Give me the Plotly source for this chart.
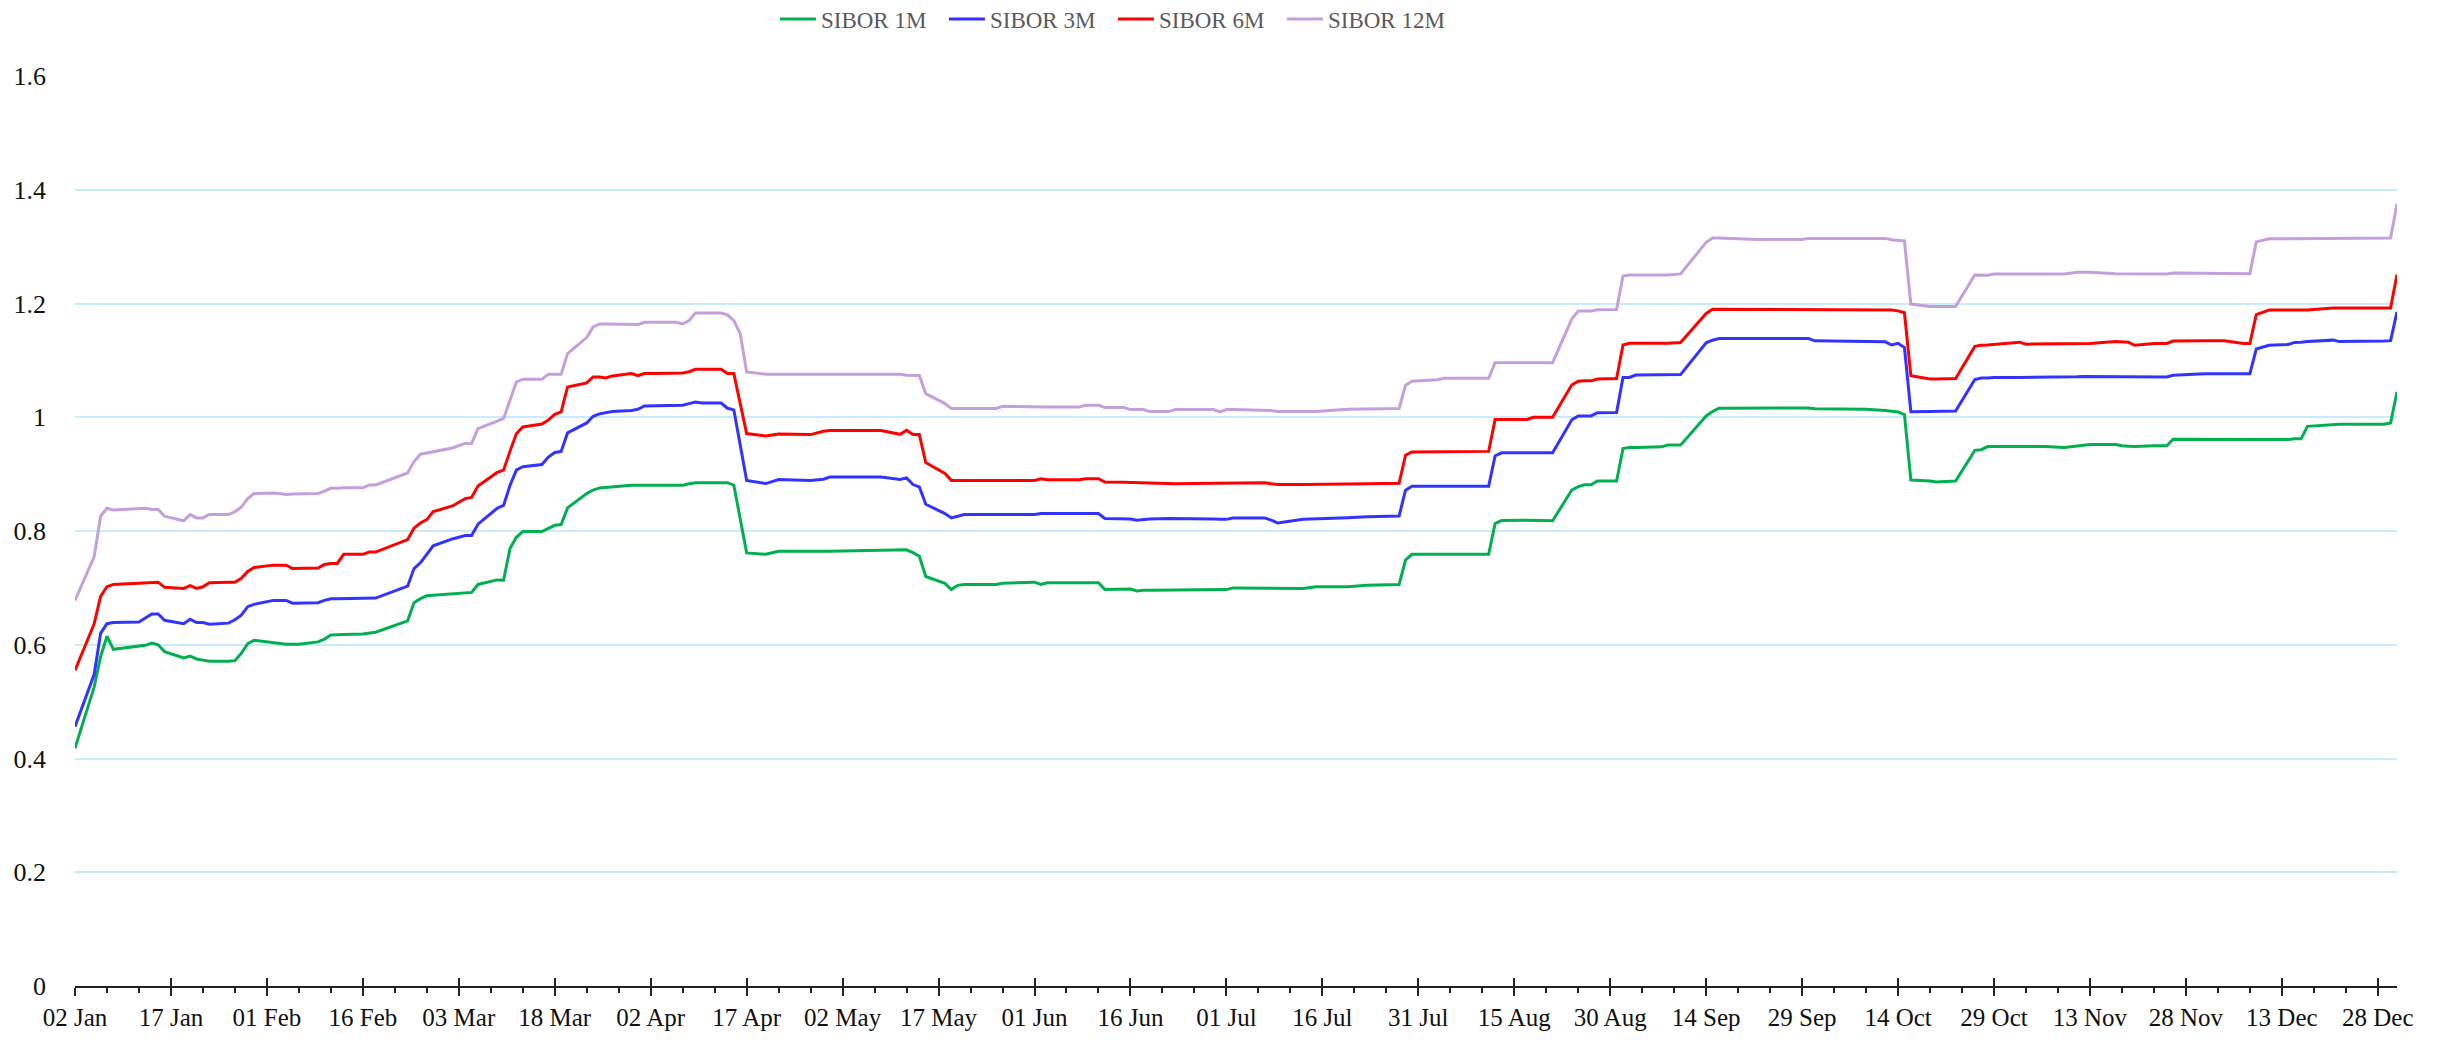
import plotly.graph_objects as go

YEAR = "2015"

dates_md = [
    # Jan
    "01-02","01-05","01-06","01-07","01-08","01-12","01-13","01-14","01-15","01-16",
    "01-19","01-20","01-21","01-22","01-23","01-26","01-27","01-28","01-29","01-30",
    # Feb
    "02-02","02-03","02-04","02-05","02-06","02-09","02-10","02-11","02-12","02-13",
    "02-16","02-17","02-18","02-23","02-24","02-25","02-26","02-27",
    # Mar
    "03-02","03-03","03-04","03-05","03-06","03-09","03-10","03-11","03-12","03-13",
    "03-16","03-17","03-18","03-19","03-20","03-23","03-24","03-25","03-26","03-27",
    "03-30","03-31",
    # Apr
    "04-01","04-02","04-06","04-07","04-08","04-09","04-10","04-13","04-14","04-15",
    "04-16","04-17","04-20","04-22","04-27","04-29","04-30",
    # May
    "05-08","05-11","05-12","05-13","05-14","05-15","05-18","05-19","05-20","05-21",
    "05-26","05-27",
    # Jun
    "06-01","06-02","06-03","06-08","06-09","06-11","06-12","06-15","06-16","06-17",
    "06-18","06-19","06-22","06-23","06-29","06-30",
    # Jul
    "07-01","07-02","07-07","07-08","07-09","07-13","07-15","07-20","07-23","07-28",
    "07-29","07-30",
    # Aug
    "08-03","08-04","08-11","08-12","08-13","08-17","08-18","08-21","08-24","08-25",
    "08-26","08-27","08-28","08-31",
    # Sep
    "09-01","09-02","09-03","09-07","09-08","09-10","09-14","09-15","09-16","09-22",
    "09-29","09-30",
    # Oct
    "10-01","10-09","10-12","10-13","10-14","10-15","10-16","10-19","10-20","10-23",
    "10-26","10-27","10-28","10-29",
    # Nov
    "11-02","11-03","11-06","11-09","11-11","11-12","11-13","11-17","11-18","11-19",
    "11-20","11-23","11-25","11-26",
    # Dec
    "12-01","12-04","12-07","12-08","12-09","12-11","12-14","12-15","12-16","12-17",
    "12-21","12-22","12-29","12-30","12-31",
]

sibor_1m = [
    .418,.526,.579,.615,.592,.597,.599,.603,.600,.588,
    .577,.580,.575,.573,.571,.571,.572,.585,.602,.608,
    .604,.602,.601,.601,.601,.605,.610,.617,.617,.618,
    .619,.621,.622,.642,.674,.681,.686,.687,
    .690,.691,.692,.692,.706,.714,.7135,.769,.789,.799,
    .799,.805,.810,.8114,.8406,.8658,.872,.8758,.877,.8775,
    .8805,.8805,
    .8805,.8805,.8805,.8805,.883,.885,.885,.885,.885,.8805,
    None,.7615,.759,.7645,.7645,.7645,.7645,
    .766,.767,.767,.762,.7557,.720,.708,.697,.7045,.706,
    .706,.708,
    .710,.706,.709,.709,.709,.709,.697,.698,.698,.6945,
    .696,.696,.696,.696,.696,.697,
    .697,.700,.700,.699,.699,.699,.702,.702,.7045,.706,
    .7487,.759,
    .759,.759,.759,.813,.8184,.819,.819,.818,.872,.878,
    .8814,.8814,.888,.888,
    .9449,.947,.947,.948,.951,.951,1.0023,1.010,1.016,1.016,
    1.0163,1.0163,
    1.0148,1.014,1.012,1.011,1.0094,1.0047,.8895,.888,.886,.888,
    .9418,.943,.9484,.9484,
    .9484,.9484,.9484,.947,.949,.9498,.952,.952,.9498,.949,
    .9484,.9498,.9498,.9612,
    .9612,.9612,.9605,.9605,.960,.960,.961,.962,.962,.984,
    .9876,.9876,.9876,.990,1.0446,
]

sibor_3m = [
    .456,.548,.620,.637,.639,.640,.647,.654,.654,.643,
    .637,.645,.639,.639,.636,.638,.644,.652,.667,.671,
    .678,.678,.678,.673,.673,.674,.678,.681,.681,.681,
    .681,.681,.682,.703,.734,.744,.760,.774,
    .786,.789,.792,.792,.812,.840,.845,.880,.907,.913,
    .917,.930,.938,.940,.9725,.990,1.0018,1.006,1.0082,1.010,
    1.012,1.0141,
    1.020,1.020,1.021,1.021,1.024,1.0269,1.025,1.025,1.0158,1.013,
    None,.889,.8834,.8905,.889,.891,.895,
    .895,.8905,.8934,.8817,.8775,.847,.8307,.823,.826,.829,
    .829,.829,
    .829,.8307,.8307,.8307,.8307,.8307,.822,.822,.821,.819,
    .820,.821,.822,.822,.821,.8205,
    .8205,.823,.823,.819,.8143,.8205,.821,.8235,.825,.8265,
    .8717,.8787,
    .8787,.8787,.8787,.932,.9375,.9375,.9375,.9375,.9955,1.0023,
    1.0023,1.0023,1.008,1.0083,
    1.070,1.070,1.0741,1.075,1.075,1.075,1.131,1.1355,1.1385,1.1385,
    1.1385,1.1385,
    1.1344,1.1326,1.1326,1.127,1.130,1.1226,1.0097,1.010,1.010,1.011,
    1.0664,1.0689,1.069,1.070,
    1.070,1.070,1.0707,1.071,1.071,1.0715,1.0715,1.072,1.072,1.072,
    1.0715,1.071,1.0707,1.0738,
    1.0765,1.0765,1.0765,1.0765,1.120,1.1265,1.128,1.1316,1.132,1.133,
    1.1356,1.133,1.134,1.1347,1.1852,
]

sibor_6m = [
    .555,.637,.685,.702,.706,.708,.709,.710,.710,.701,
    .699,.704,.699,.702,.709,.710,.710,.717,.729,.736,
    .740,.740,.740,.734,.734,.735,.741,.743,.743,.759,
    .759,.763,.763,.785,.805,.814,.820,.834,
    .844,.850,.857,.859,.879,.903,.907,.940,.971,.983,
    .988,.995,1.005,1.0094,1.0533,1.0603,1.0709,1.0709,1.0691,1.0727,
    1.0768,1.0733,
    1.0768,1.0768,1.0775,1.078,1.080,1.0844,1.0844,1.0844,1.0768,1.0768,
    None,.9713,.9672,.9707,.9695,.9754,.9766,
    .9766,.970,.977,.9695,.9695,.9203,.901,.889,.889,.889,
    .889,.889,
    .889,.8919,.890,.890,.8919,.8919,.886,.8855,.8852,.8849,
    .884,.883,.883,.883,.884,.884,
    .884,.884,.885,.883,.8817,.8817,.8817,.8825,.883,.884,
    .9332,.939,
    .9395,.9395,.940,.9959,.996,.996,.9998,.9998,1.057,1.0633,
    1.064,1.064,1.0672,1.068,
    1.127,1.130,1.130,1.130,1.130,1.1315,1.1824,1.190,1.190,1.190,
    1.190,1.190,
    1.190,1.189,1.189,1.1887,1.187,1.1837,1.073,1.0672,1.0672,1.068,
    1.1246,1.1265,1.127,1.128,
    1.132,1.1285,1.129,1.129,1.1295,1.1298,1.1298,1.133,1.133,1.132,
    1.1265,1.1298,1.1298,1.134,
    1.1345,1.1345,1.1298,1.1298,1.1805,1.1885,1.1885,1.1885,1.1885,1.1885,
    1.192,1.192,1.192,1.192,1.251,
]

sibor_12m = [
    .678,.755,.826,.840,.837,.840,.840,.838,.838,.826,
    .818,.829,.823,.823,.829,.829,.834,.842,.857,.866,
    .867,.866,.864,.865,.865,.866,.870,.875,.875,.876,
    .876,.881,.881,.902,.922,.935,.937,.939,
    .946,.950,.954,.954,.980,.993,.998,1.030,1.062,1.067,
    1.067,1.0756,1.0756,1.0756,1.112,1.140,1.1587,1.164,1.164,1.164,
    1.163,1.163,
    1.167,1.167,1.167,1.164,1.170,1.1834,1.1834,1.1834,1.180,1.170,
    1.147,1.0797,1.0756,1.0756,1.0756,1.0756,1.0756,
    1.0756,1.0756,1.0740,1.0733,1.0733,1.0416,1.024,1.0152,1.0152,1.0152,
    1.0152,1.0193,
    1.0182,1.0182,1.0182,1.0182,1.021,1.021,1.017,1.017,1.0135,1.0135,
    1.0135,1.010,1.010,1.0135,1.0135,1.0094,
    1.0135,1.0135,1.013,1.012,1.010,1.010,1.010,1.0141,1.0145,1.0152,
    1.0562,1.0633,
    1.066,1.0686,1.0686,1.096,1.096,1.096,1.096,1.096,1.173,1.1866,
    1.1866,1.1866,1.189,1.1895,
    1.2484,1.250,1.250,1.250,1.250,1.252,1.3076,1.315,1.315,1.3124,
    1.3124,1.3145,
    1.3145,1.3145,1.3145,1.312,1.311,1.310,1.199,1.1949,1.1949,1.1949,
    1.250,1.2497,1.2497,1.2518,
    1.2518,1.2518,1.2518,1.2518,1.255,1.255,1.255,1.2525,1.2525,1.2525,
    1.2522,1.252,1.2518,1.2536,
    1.2536,1.2525,1.2525,1.2525,1.3083,1.3137,1.3137,1.3137,1.3137,1.3137,
    1.315,1.315,1.315,1.315,1.3755,
]

series_names = ["SIBOR 1M", "SIBOR 3M", "SIBOR 6M", "SIBOR 12M"]
series_values = [sibor_1m, sibor_3m, sibor_6m, sibor_12m]
series_colors = ["#00b050", "#3333ff", "#ff0000", "#c3a0dc"]

for v in series_values:
    assert len(v) == len(dates_md), (len(v), len(dates_md))

dates = [f"{YEAR}-{md}" for md in dates_md]

FONT = "Liberation Serif, Times New Roman, serif"
DAY = 86400000

fig = go.Figure()
for name, vals, col in zip(series_names, series_values, series_colors):
    fig.add_trace(go.Scatter(
        x=dates, y=vals, name=name, mode="lines",
        line=dict(color=col, width=3), connectgaps=True,
    ))

# helper invisible trace so the overlay axis (upper half of the crossing ticks) renders
fig.add_trace(go.Scatter(
    x=dates, y=sibor_1m, xaxis="x2", mode="lines",
    line=dict(width=0, color="rgba(0,0,0,0)"), showlegend=False, hoverinfo="skip",
))

xr = [f"{YEAR}-01-02", f"{YEAR}-12-31"]

fig.update_layout(
    width=2447, height=1040,
    margin=dict(l=67, r=58, t=68, b=62, autoexpand=False),
    paper_bgcolor="white", plot_bgcolor="white",
    font=dict(family=FONT, size=24, color="#111111"),
    showlegend=True,
    legend=dict(
        orientation="h", x=0.447, xanchor="center", y=1 - 11 / 1040, yanchor="middle",
        yref="container",
        font=dict(family=FONT, size=23, color="#595959"),
        bgcolor="rgba(0,0,0,0)",
        entrywidth=118, entrywidthmode="pixels",
        itemwidth=36,
    ),
    xaxis=dict(
        type="date", range=xr,
        tick0=f"{YEAR}-01-02", dtick=15 * DAY, tickformat="%d %b",
        ticks="outside", ticklen=8, tickwidth=2, tickcolor="#222222",
        showline=True, linecolor="#222222", linewidth=2,
        showgrid=False, zeroline=False,
        minor=dict(ticks="outside", tick0=f"{YEAR}-01-02", dtick=5 * DAY,
                   ticklen=5, tickwidth=2, tickcolor="#222222", showgrid=False),
        tickfont=dict(family=FONT, size=25, color="#111111"),
    ),
    xaxis2=dict(
        type="date", overlaying="x", matches="x", anchor="y", side="bottom",
        tick0=f"{YEAR}-01-02", dtick=15 * DAY,
        ticks="inside", ticklen=8, tickwidth=2, tickcolor="#222222",
        showticklabels=False, showgrid=False, zeroline=False, showline=False,
    ),
    yaxis=dict(
        range=[0, 1.6], dtick=0.2, tick0=0,
        showgrid=True, gridcolor="#c8ecfb", gridwidth=2,
        zeroline=False, showline=False, ticks="",
        ticklabelstandoff=28,
        tickfont=dict(family=FONT, size=26, color="#111111"),
    ),
)

fig.write_html("out.html")
